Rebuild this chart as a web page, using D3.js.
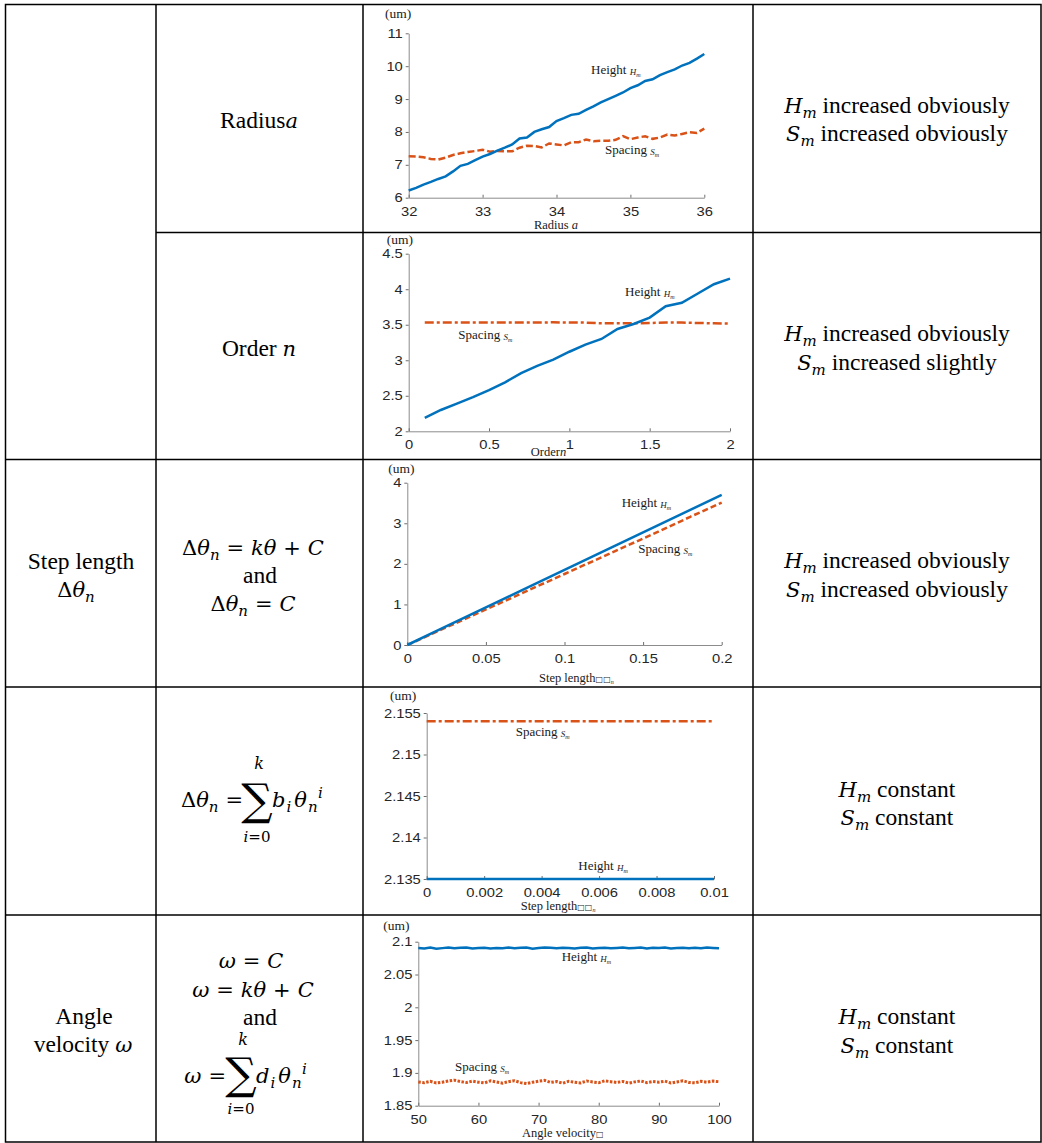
<!DOCTYPE html>
<html>
<head>
<meta charset="utf-8">
<script src="https://cdn.jsdelivr.net/npm/d3@7"></script>
<style>
  body { margin: 0; background: #fff; }
  svg { display: block; }
</style>
</head>
<body>
<svg id="fig" width="1042" height="1143"></svg>
<script>
// ---- data ----
const radiusA = [32, 32.1, 32.2, 32.3, 32.4, 32.5, 32.6, 32.7, 32.8, 32.9, 33, 33.1, 33.2, 33.3, 33.4, 33.5, 33.6, 33.7, 33.8, 33.9,
  34, 34.1, 34.2, 34.3, 34.4, 34.5, 34.6, 34.7, 34.8, 34.9, 35, 35.1, 35.2, 35.3, 35.4, 35.5, 35.6, 35.7, 35.8, 35.9, 36];
const radiusHeight = [6.22, 6.30, 6.40, 6.48, 6.57, 6.65, 6.80, 6.97, 7.03, 7.14, 7.25, 7.33, 7.43, 7.52, 7.62, 7.80, 7.83, 8.00, 8.08, 8.15,
  8.33, 8.42, 8.52, 8.55, 8.67, 8.78, 8.90, 9.00, 9.10, 9.20, 9.33, 9.42, 9.55, 9.60, 9.73, 9.82, 9.90, 10.02, 10.10, 10.23, 10.37];
const radiusSpacing = [7.26, 7.25, 7.23, 7.18, 7.16, 7.22, 7.30, 7.35, 7.39, 7.42, 7.46, 7.40, 7.42, 7.41, 7.41, 7.52, 7.58, 7.57, 7.53, 7.65,
  7.62, 7.59, 7.69, 7.69, 7.77, 7.72, 7.73, 7.73, 7.76, 7.87, 7.78, 7.83, 7.87, 7.79, 7.83, 7.92, 7.89, 7.94, 7.99, 7.97, 8.10];

const orderN = [0.1, 0.2, 0.3, 0.4, 0.5, 0.6, 0.7, 0.8, 0.9, 1.0, 1.1, 1.2, 1.3, 1.4, 1.5, 1.6, 1.7, 1.8, 1.9, 2.0];
const orderHeight = [2.19, 2.30, 2.39, 2.48, 2.58, 2.69, 2.82, 2.92, 3.01, 3.12, 3.22, 3.30, 3.44, 3.51, 3.60, 3.76, 3.81, 3.94, 4.07, 4.15];
const orderSpacing = [3.53, 3.53, 3.53, 3.53, 3.53, 3.53, 3.53, 3.53, 3.535, 3.53, 3.53, 3.52, 3.52, 3.52, 3.525, 3.53, 3.53, 3.525, 3.52, 3.515];

const stepLen = [0, 0.02, 0.04, 0.06, 0.08, 0.1, 0.12, 0.14, 0.16, 0.18, 0.2];
const stepHeight = [0, 0.37, 0.74, 1.11, 1.48, 1.85, 2.22, 2.59, 2.96, 3.33, 3.70];
const stepSpacing = [0, 0.35, 0.70, 1.05, 1.40, 1.75, 2.10, 2.45, 2.80, 3.16, 3.51];

const polyStep = [0, 0.001, 0.002, 0.003, 0.004, 0.005, 0.006, 0.007, 0.008, 0.009, 0.01];
const polyHeight = [2.135, 2.135, 2.135, 2.135, 2.135, 2.135, 2.135, 2.135, 2.135, 2.135, 2.135];
const polySpacing = [2.154, 2.154, 2.154, 2.154, 2.154, 2.154, 2.154, 2.154, 2.154, 2.154, 2.154];

const velOmega = [50, 51, 52, 53, 54, 55, 56, 57, 58, 59, 60, 61, 62, 63, 64, 65, 66, 67, 68, 69, 70, 71, 72, 73, 74, 75,
  76, 77, 78, 79, 80, 81, 82, 83, 84, 85, 86, 87, 88, 89, 90, 91, 92, 93, 94, 95, 96, 97, 98, 99, 100];
const velHeight = [2.0905, 2.0898, 2.0910, 2.0893, 2.0902, 2.0911, 2.0899, 2.0906, 2.0912, 2.0897, 2.0903, 2.0909, 2.0895,
  2.0904, 2.0900, 2.0910, 2.0902, 2.0908, 2.0911, 2.0894, 2.0903, 2.0910, 2.0906, 2.0901, 2.0909, 2.0904, 2.0898, 2.0907,
  2.0911, 2.0896, 2.0903, 2.0909, 2.0900, 2.0905, 2.0912, 2.0899, 2.0904, 2.0910, 2.0897, 2.0906, 2.0903, 2.0911, 2.0898,
  2.0905, 2.0909, 2.0900, 2.0907, 2.0902, 2.0910, 2.0904, 2.0899];
const velSpacing = [1.8862, 1.8850, 1.8871, 1.8845, 1.8858, 1.8876, 1.8889, 1.8868, 1.8853, 1.8874, 1.8859, 1.8847, 1.8878,
  1.8861, 1.8844, 1.8866, 1.8880, 1.8852, 1.8837, 1.8858, 1.8873, 1.8886, 1.8855, 1.8869, 1.8843, 1.8872, 1.8857, 1.8848,
  1.8876, 1.8862, 1.8851, 1.8879, 1.8866, 1.8854, 1.8870, 1.8845, 1.8863, 1.8877, 1.8852, 1.8868, 1.8859, 1.8874, 1.8846,
  1.8862, 1.8880, 1.8855, 1.8849, 1.8871, 1.8858, 1.8875, 1.8866];

// tick labels
const radiusXTicks = [32, 33, 34, 35, 36];
const radiusYTicks = [6, 7, 8, 9, 10, 11];
const orderXTicks = [0, 0.5, 1, 1.5, 2];
const orderYTicks = [2, 2.5, 3, 3.5, 4, 4.5];
const stepXTicks = [0, 0.05, 0.1, 0.15, 0.2];
const stepYTicks = [0, 1, 2, 3, 4];
const polyXTicks = [0, 0.002, 0.004, 0.006, 0.008, 0.01];
const polyYTicks = [2.135, 2.14, 2.145, 2.15, 2.155];
const velXTicks = [50, 60, 70, 80, 90, 100];
const velYTicks = [1.85, 1.9, 1.95, 2, 2.05, 2.1];

const BLUE = '#0072BD';
const ORANGE = '#D95319';
const SERIF = '"Liberation Serif", "Times New Roman", serif';
const MATH = '"DejaVu Serif", serif';
const SANS = '"Liberation Sans", Arial, sans-serif';
const BASE = 23.5;   // table text
const MBASE = 21;    // math glyphs
const MSUB = 15;     // math sub/superscripts

const svg = d3.select('#fig');
svg.append('rect').attr('width', 1042).attr('height', 1143).attr('fill', '#fff');

// Rich text: segments with italic / math font / size / baseline offset
function rich(parent, x, y, segs, anchor, size) {
  const t = parent.append('text')
    .attr('x', x).attr('y', y)
    .attr('text-anchor', anchor || 'middle')
    .attr('font-family', SERIF)
    .attr('font-size', size || BASE)
    .attr('fill', '#000');
  let off = 0;
  segs.forEach(s => {
    const o = s.off || 0;
    const ts = t.append('tspan').text(s.t).attr('dy', o - off);
    off = o;
    if (s.it) ts.attr('font-style', 'italic');
    if (s.m) ts.attr('font-family', MATH).attr('font-size', s.fs || MBASE);
    else if (s.fs) ts.attr('font-size', s.fs);
    if (s.dx) ts.attr('dx', s.dx);
    if (s.ff) ts.attr('font-family', s.ff);
  });
  return t;
}
const T = (t, o) => Object.assign({t: t}, o || {});
// math pieces
const V = (t, o) => T(t, Object.assign({m: 1, it: 1}, o || {}));          // italic variable
const U = (t, o) => T(t, Object.assign({m: 1}, o || {}));                  // upright symbol
const SUB = (t, o) => V(t, Object.assign({fs: MSUB, off: 5}, o || {}));
const OP = t => U('\u2004' + t + '\u2004', {off: 0});

// ---- table grid ----
const colX = [5.5, 156, 363, 753, 1041];
const rowY = [4.5, 232.5, 459.5, 687, 915, 1142];
const grid = svg.append('g').attr('stroke', '#000').attr('stroke-width', 1.5);
grid.append('rect').attr('x', colX[0]).attr('y', rowY[0])
  .attr('width', colX[4] - colX[0]).attr('height', rowY[5] - rowY[0]).attr('fill', 'none');
[colX[1], colX[2], colX[3]].forEach(x => grid.append('line').attr('x1', x).attr('x2', x).attr('y1', rowY[0]).attr('y2', rowY[5]));
grid.append('line').attr('x1', colX[1]).attr('x2', colX[4]).attr('y1', rowY[1]).attr('y2', rowY[1]);
[rowY[2], rowY[3], rowY[4]].forEach(y => grid.append('line').attr('x1', colX[0]).attr('x2', colX[4]).attr('y1', y).attr('y2', y));

// ---- left column ----
const cells = svg.append('g');
rich(cells, 81, 569, [T('Step length')]);
rich(cells, 76, 597, [U('\u0394'), V('\u03b8'), SUB('n')]);
rich(cells, 84, 1024, [T('Angle')]);
rich(cells, 83, 1052, [T('velocity '), V('\u03c9')]);

// ---- parameter column ----
rich(cells, 259, 128, [T('Radius'), V('a')]);
rich(cells, 259, 356, [T('Order '), V('n')]);

rich(cells, 253, 555, [U('\u0394'), V('\u03b8'), SUB('n'), OP('='), V('k\u03b8'), OP('+'), V('C')]);
rich(cells, 260, 583, [T('and')]);
rich(cells, 253, 611, [U('\u0394'), V('\u03b8'), SUB('n'), OP('='), V('C')]);

// sum formula helper (n-ary summation glyph, limits above and below)
function sumFormula(lhs, rhsLetter, lhsEnd, sx, base, sigBase, kY, iY) {
  rich(cells, lhsEnd, base, lhs, 'end');
  cells.append('text').text('\u2211')
    .attr('x', sx).attr('y', sigBase)
    .attr('text-anchor', 'middle').attr('font-family', '"DejaVu Serif", "DejaVu Sans", serif').attr('font-size', 44);
  rich(cells, sx + 2, kY, [V('k', {fs: 16})], 'middle');
  rich(cells, sx, iY, [V('i', {fs: MSUB}), U('=0', {fs: MSUB})], 'middle');
  rich(cells, sx + 15, base, [V(rhsLetter), SUB('i', {dx: 1}), V('\u03b8', {off: 0, dx: 3}),
    SUB('n', {dx: 1}), V('i', {fs: MSUB, off: -9, dx: 0.5})], 'start');
}
sumFormula([U('\u0394'), V('\u03b8'), SUB('n'), U('\u2004=', {off: 0})], 'b', 243, 257, 807, 815, 769, 842);

rich(cells, 251, 968, [V('\u03c9'), OP('='), V('C')]);
rich(cells, 253, 997, [V('\u03c9'), OP('='), V('k\u03b8'), OP('+'), V('C')]);
rich(cells, 260, 1025, [T('and')]);
sumFormula([V('\u03c9'), U('\u2004=')], 'd', 226, 241, 1083, 1089, 1045, 1114);

// ---- conclusion column ----
function conclusion(y, sym, txt) {
  rich(cells, 897, y, [V(sym), SUB('m'), T(' ' + txt, {off: 0})]);
}
conclusion(113, 'H', 'increased obviously');
conclusion(141, 'S', 'increased obviously');
conclusion(341, 'H', 'increased obviously');
conclusion(370, 'S', 'increased slightly');
conclusion(568, 'H', 'increased obviously');
conclusion(597, 'S', 'increased obviously');
conclusion(797, 'H', 'constant');
conclusion(825, 'S', 'constant');
conclusion(1024, 'H', 'constant');
conclusion(1053, 'S', 'constant');

// ---- charts ----
function seriesLabel(g, x, y, word, sym) {
  rich(g, x, y, [T(word + ' '), T(sym, {it: 1, fs: 9, off: 1}), T('m', {it: 1, fs: 6, off: 3})], 'start', 13).attr('fill', '#1a1a1a');
}

function drawChart(c) {
  const g = svg.append('g');
  const x = d3.scaleLinear().domain(c.xDomain).range([c.left, c.right]);
  const y = d3.scaleLinear().domain(c.yDomain).range([c.bottom, c.top]);

  const ya = g.append('g').attr('transform', `translate(${c.left},0)`)
    .call(d3.axisLeft(y).tickValues(c.yTicks).tickFormat(d => String(d))
      .tickSizeInner(3).tickSizeOuter(0).tickPadding(2));
  const xa = g.append('g').attr('transform', `translate(0,${c.bottom})`)
    .call(d3.axisBottom(x).tickValues(c.xTicks).tickFormat(d => String(d))
      .tickSizeInner(-3).tickSizeOuter(0).tickPadding(9));
  [ya, xa].forEach(a => {
    a.attr('font-family', SANS).attr('font-size', 12.5);
    a.select('.domain').attr('stroke', '#8c8c8c');
    a.selectAll('.tick line').attr('stroke', '#6e6e6e');
    a.selectAll('.tick text').attr('fill', '#262626').attr('transform', 'scale(1.18,1)');
  });

  const line = d3.line().x((d, i) => x(c.xs[i])).y(d => y(d));
  g.append('path').datum(c.s).attr('d', line)
    .attr('fill', 'none').attr('stroke', ORANGE).attr('stroke-width', c.sWidth || 2.5)
    .attr('stroke-dasharray', c.sDash);
  g.append('path').datum(c.h).attr('d', line)
    .attr('fill', 'none').attr('stroke', BLUE).attr('stroke-width', 2.5);

  rich(g, c.um[0], c.um[1], [T('(um)')], 'start', 13.5).attr('fill', '#1a1a1a');
  seriesLabel(g, c.hLab[0], c.hLab[1], 'Height', 'H');
  seriesLabel(g, c.sLab[0], c.sLab[1], 'Spacing', 'S');
  rich(g, c.xTitle[0], c.xTitle[1], c.xTitleSegs, c.xTitle[2], 12.5).attr('fill', '#1a1a1a');
}

drawChart({
  left: 408.7, right: 704.3, bottom: 197.7, top: 33.3,
  xDomain: [32, 36], yDomain: [6, 11], xTicks: radiusXTicks, yTicks: radiusYTicks,
  xs: radiusA, h: radiusHeight, s: radiusSpacing, sDash: '7,3',
  um: [385, 17.5], hLab: [591, 74], sLab: [605, 154],
  xTitle: [556, 229, 'middle'], xTitleSegs: [T('Radius '), T('a', {it: 1})]
});
drawChart({
  left: 408.7, right: 730, bottom: 431.3, top: 253.7,
  xDomain: [0, 2], yDomain: [2, 4.5], xTicks: orderXTicks, yTicks: orderYTicks,
  xs: orderN, h: orderHeight, s: orderSpacing, sDash: '9,3,3,3',
  um: [386.7, 244], hLab: [625, 296], sLab: [458.3, 338.7],
  xTitle: [548.5, 456, 'middle'], xTitleSegs: [T('Order'), T('n', {it: 1})]
});
drawChart({
  left: 407.3, right: 721.7, bottom: 645, top: 482.7,
  xDomain: [0, 0.2], yDomain: [0, 4], xTicks: stepXTicks, yTicks: stepYTicks,
  xs: stepLen, h: stepHeight, s: stepSpacing, sDash: '6,3',
  um: [388.3, 472.5], hLab: [621.7, 507.3], sLab: [638.3, 552.7],
  xTitle: [539, 681.5, 'start'],
  xTitleSegs: [T('Step length'), T('\u25a1\u25a1', {fs: 8, ff: '"DejaVu Sans"'}), T('n', {it: 1, fs: 6, off: 2})]
});
drawChart({
  left: 426.7, right: 714, bottom: 879, top: 713,
  xDomain: [0, 0.01], yDomain: [2.135, 2.155], xTicks: polyXTicks, yTicks: polyYTicks,
  xs: polyStep, h: polyHeight, s: polySpacing, sDash: '9,3,3,3',
  um: [390, 700], hLab: [578.3, 869.7], sLab: [515.7, 736.3],
  xTitle: [520.7, 909.5, 'start'],
  xTitleSegs: [T('Step length'), T('\u25a1\u25a1', {fs: 8, ff: '"DejaVu Sans"'}), T('n', {it: 1, fs: 6, off: 2})]
});
drawChart({
  left: 418.3, right: 719, bottom: 1105.7, top: 941.7,
  xDomain: [50, 100], yDomain: [1.85, 2.1], xTicks: velXTicks, yTicks: velYTicks,
  xs: velOmega, h: velHeight, s: velSpacing, sDash: '2.5,1.5', sWidth: 3,
  um: [383.3, 930], hLab: [561.7, 961.3], sLab: [455, 1070.7],
  xTitle: [522, 1136.5, 'start'],
  xTitleSegs: [T('Angle velocity'), T('\u25a1', {fs: 8, ff: '"DejaVu Sans"'})]
});
</script>
</body>
</html>
